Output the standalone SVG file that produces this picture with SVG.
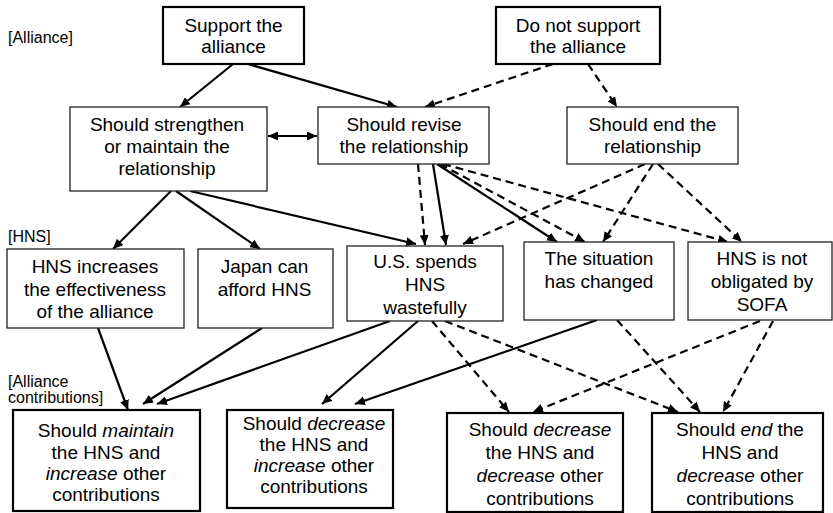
<svg xmlns="http://www.w3.org/2000/svg" width="833" height="513" viewBox="0 0 833 513">
<style>
text{font-family:"Liberation Sans",Arial,sans-serif;font-size:19px;fill:#000;text-anchor:middle}
.lbl{font-size:16px;text-anchor:start}
.thick{fill:#fff;stroke:#000;stroke-width:2.2}
.thin{fill:#fff;stroke:#222;stroke-width:1.3}
.e{fill:none;stroke:#000;stroke-width:2.2}
.d{stroke-dasharray:8,5}
i{font-style:italic}
.it{font-style:italic}
</style>
<defs>
<marker id="ah" markerUnits="userSpaceOnUse" markerWidth="10" markerHeight="9" refX="10" refY="4.5" orient="auto">
<path d="M0,0 L10,4.5 L0,9 z" fill="#000"/>
</marker>
<marker id="as" markerUnits="userSpaceOnUse" markerWidth="10" markerHeight="9" refX="0" refY="4.5" orient="auto">
<path d="M10,0 L0,4.5 L10,9 z" fill="#000"/>
</marker>
</defs>
<rect width="833" height="513" fill="#fff"/>
<g id="labels">
<text class="lbl" x="8" y="43">[Alliance]</text>
<text class="lbl" x="8" y="242">[HNS]</text>
<text class="lbl" x="8" y="387">[Alliance</text>
<text class="lbl" x="8" y="403">contributions]</text>
</g>
<g id="connectors">
<line class="e" x1="233" y1="64" x2="180" y2="107" marker-end="url(#ah)"/>
<line class="e" x1="248" y1="64" x2="397" y2="107" marker-end="url(#ah)"/>
<line class="e" x1="268" y1="136" x2="317" y2="136" marker-start="url(#as)" marker-end="url(#ah)"/>
<line class="e d" x1="553" y1="64" x2="425" y2="107" marker-end="url(#ah)"/>
<line class="e d" x1="588" y1="64" x2="617" y2="107" marker-end="url(#ah)"/>
<line class="e" x1="171" y1="191" x2="113" y2="249" marker-end="url(#ah)"/>
<line class="e" x1="176" y1="191" x2="260" y2="249" marker-end="url(#ah)"/>
<line class="e" x1="190" y1="191" x2="416" y2="244" marker-end="url(#ah)"/>
<line class="e d" x1="418" y1="164" x2="425" y2="245" marker-end="url(#ah)"/>
<line class="e" x1="433" y1="164" x2="446" y2="245" marker-end="url(#ah)"/>
<line class="e" x1="437" y1="164" x2="557" y2="242" marker-end="url(#ah)"/>
<line class="e d" x1="440" y1="164" x2="585" y2="242" marker-end="url(#ah)"/>
<line class="e d" x1="443" y1="164" x2="728" y2="242" marker-end="url(#ah)"/>
<line class="e d" x1="645" y1="164" x2="463" y2="244" marker-end="url(#ah)"/>
<line class="e d" x1="653" y1="164" x2="603" y2="242" marker-end="url(#ah)"/>
<line class="e d" x1="658" y1="164" x2="742" y2="242" marker-end="url(#ah)"/>
<line class="e" x1="98" y1="328" x2="128" y2="410" marker-end="url(#ah)"/>
<line class="e" x1="262" y1="328" x2="143" y2="404" marker-end="url(#ah)"/>
<line class="e" x1="390" y1="321" x2="157" y2="404" marker-end="url(#ah)"/>
<line class="e" x1="418" y1="321" x2="322" y2="404" marker-end="url(#ah)"/>
<line class="e" x1="597" y1="320" x2="355" y2="404" marker-end="url(#ah)"/>
<line class="e d" x1="432" y1="321" x2="509" y2="412" marker-end="url(#ah)"/>
<line class="e d" x1="445" y1="321" x2="678" y2="412" marker-end="url(#ah)"/>
<line class="e d" x1="617" y1="320" x2="700" y2="412" marker-end="url(#ah)"/>
<line class="e d" x1="760" y1="321" x2="533" y2="412" marker-end="url(#ah)"/>
<line class="e d" x1="773" y1="321" x2="723" y2="412" marker-end="url(#ah)"/>
</g>
<g id="support">
<rect class="thick" x="163" y="7" width="141" height="57"/>
<text x="233.5" y="32">Support the</text>
<text x="233.5" y="53">alliance</text>
</g>
<g id="notsupport">
<rect class="thick" x="496" y="7" width="164" height="57"/>
<text x="578" y="32">Do not support</text>
<text x="578" y="53">the alliance</text>
</g>
<g id="strengthen">
<rect class="thin" x="70" y="107" width="197" height="84"/>
<text x="167" y="131">Should strengthen</text>
<text x="167" y="153">or maintain the</text>
<text x="167" y="175">relationship</text>
</g>
<g id="revise">
<rect class="thin" x="318" y="107" width="171" height="57"/>
<text x="404" y="131">Should revise</text>
<text x="404" y="153">the relationship</text>
</g>
<g id="end">
<rect class="thin" x="567" y="107" width="171" height="57"/>
<text x="652.5" y="131">Should end the</text>
<text x="652.5" y="153">relationship</text>
</g>
<g id="effectiveness">
<rect class="thin" x="7" y="249" width="177" height="79"/>
<text x="95" y="273">HNS increases</text>
<text x="95" y="296">the effectiveness</text>
<text x="95" y="318">of the alliance</text>
</g>
<g id="afford">
<rect class="thin" x="198" y="249" width="135" height="79"/>
<text x="264.5" y="273">Japan can</text>
<text x="264.5" y="296">afford HNS</text>
</g>
<g id="wasteful">
<rect class="thin" x="347" y="246" width="156" height="75"/>
<text x="425" y="268">U.S. spends</text>
<text x="425" y="291">HNS</text>
<text x="425" y="314">wastefully</text>
</g>
<g id="situation">
<rect class="thin" x="524" y="242" width="150" height="78"/>
<text x="599" y="265">The situation</text>
<text x="599" y="288">has changed</text>
</g>
<g id="sofa">
<rect class="thin" x="688" y="242" width="144" height="78"/>
<text x="762" y="265">HNS is not</text>
<text x="762" y="288">obligated by</text>
<text x="762" y="311">SOFA</text>
</g>
<g id="maintain">
<rect class="thick" x="13" y="410" width="187" height="101"/>
<text x="106" y="437">Should <tspan class="it">maintain</tspan></text>
<text x="106" y="458.5">the HNS and</text>
<text x="106" y="480"><tspan class="it">increase</tspan> other</text>
<text x="106" y="501">contributions</text>
</g>
<g id="decrease-increase">
<rect class="thick" x="227" y="410" width="166" height="98"/>
<text x="314" y="430">Should <tspan class="it">decrease</tspan></text>
<text x="314" y="451">the HNS and</text>
<text x="314" y="472"><tspan class="it">increase</tspan> other</text>
<text x="314" y="493">contributions</text>
</g>
<g id="decrease-decrease">
<rect class="thick" x="447" y="413" width="176" height="99"/>
<text x="540" y="436">Should <tspan class="it">decrease</tspan></text>
<text x="540" y="459">the HNS and</text>
<text x="540" y="482"><tspan class="it">decrease</tspan> other</text>
<text x="540" y="505">contributions</text>
</g>
<g id="end-decrease">
<rect class="thick" x="652" y="413" width="171" height="99"/>
<text x="740" y="436">Should <tspan class="it">end</tspan> the</text>
<text x="740" y="459">HNS and</text>
<text x="740" y="482"><tspan class="it">decrease</tspan> other</text>
<text x="740" y="505">contributions</text>
</g>
</svg>
